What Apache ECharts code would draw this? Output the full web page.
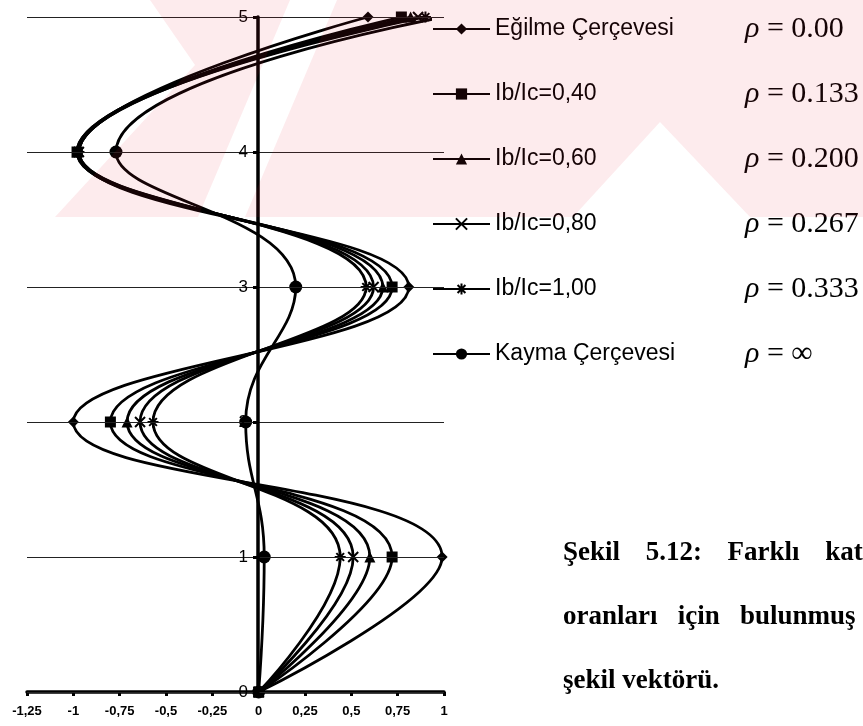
<!DOCTYPE html>
<html>
<head>
<meta charset="utf-8">
<script src="https://cdn.jsdelivr.net/npm/echarts@6/dist/echarts.min.js"></script>
<style>
	html, body { margin: 0; padding: 0; background: #fff; }
	#chart { width: 863px; height: 726px; }
</style>
</head>
<body>
<div id="chart"></div>
<script>
// kat seviyeleri ve mod şekli değerleri
var storeys = [0, 1, 2, 3, 4, 5];
var egilme = [0, 0.99, -1.0, 0.81, -0.97, 0.59];
var ib040 = [0, 0.72, -0.80, 0.72, -0.98, 0.77];
var ib060 = [0, 0.60, -0.71, 0.67, -0.98, 0.82];
var ib080 = [0, 0.51, -0.64, 0.62, -0.97, 0.86];
var ib100 = [0, 0.44, -0.57, 0.58, -0.97, 0.90];
var kayma = [0, 0.03, -0.07, 0.20, -0.77, 1.00];

var seriesNames = ['Eğilme Çerçevesi', 'Ib/Ic=0,40', 'Ib/Ic=0,60', 'Ib/Ic=0,80', 'Ib/Ic=1,00', 'Kayma Çerçevesi'];
var rhoValues = ['0.00', '0.133', '0.200', '0.267', '0.333', '∞'];
var xTickLabels = ['-1,25', '-1', '-0,75', '-0,5', '-0,25', '0', '0,25', '0,5', '0,75', '1'];
var yTickLabels = ['0', '1', '2', '3', '4', '5'];
var captionLines = ['Şekil   \u20095.12:   \u2009Farklı   \u2009kat', 'oranları   için   bulunmuş', 'şekil vektörü.'];

var chartDom = document.getElementById('chart');
var myChart = echarts.init(chartDom);

function pairs(vals) {
	return vals.map(function (v, i) { return [v, storeys[i]]; });
}

var xMark = 'path://M0,0L10,10M10,0L0,10';
var starMark = 'path://M5,0L5,10M0,5L10,5M1.5,1.5L8.5,8.5M8.5,1.5L1.5,8.5';
var markers = [
	{ symbol: 'diamond', size: 11 },
	{ symbol: 'rect', size: 11 },
	{ symbol: 'triangle', size: 11 },
	{ symbol: xMark, size: 10, stroke: true },
	{ symbol: starMark, size: 11, stroke: true },
	{ symbol: 'circle', size: 13 }
];
var allData = [egilme, ib040, ib060, ib080, ib100, kayma];

var series = allData.map(function (vals, i) {
	var m = markers[i];
	return {
		name: seriesNames[i],
		type: 'line',
		smooth: 0.45,
		data: pairs(vals),
		symbol: m.symbol,
		symbolSize: m.size,
		showAllSymbol: true,
		lineStyle: { color: '#000', width: 2.8 },
		itemStyle: m.stroke
			? { color: 'rgba(0,0,0,0)', borderColor: '#000', borderWidth: 2 }
			: { color: '#000', borderColor: '#000', borderWidth: 0 },
		emphasis: { disabled: true },
		z: 3
	};
});

// tez filigranı (soluk pembe bantlar)
var wmFill = 'rgba(230,30,60,0.09)';
var watermark = [
	[[150, 0], [290, 0], [198, 217], [55, 217], [195, 65]],
	[[337, 0], [863, 0], [863, 217], [750, 217], [660, 122], [573, 217], [245, 217]]
].map(function (pts) {
	return { type: 'polygon', shape: { points: pts }, style: { fill: wmFill }, silent: true, z: 100 };
});

var caption = captionLines.map(function (t, i) {
	return {
		type: 'text',
		left: 563,
		top: 540 + i * 64,
		style: { text: t, font: 'bold 27px "Liberation Serif", serif', fill: '#000' },
		z: 10
	};
});

var option = {
	animation: false,
	backgroundColor: '#fff',
	grid: { left: 27, right: 419, top: 17, bottom: 34 },
	xAxis: {
		type: 'value',
		min: -1.25,
		max: 1,
		interval: 0.25,
		axisLine: { onZero: false, lineStyle: { color: '#000', width: 3.5 } },
		axisTick: { show: true, length: 4, lineStyle: { color: '#000', width: 3 } },
		axisLabel: {
			color: '#000',
			fontFamily: 'Liberation Sans, Arial',
			fontWeight: 'bold',
			fontSize: 13,
			margin: 13,
			formatter: function (v, i) { return xTickLabels[i]; }
		},
		splitLine: { show: false }
	},
	yAxis: {
		type: 'value',
		min: 0,
		max: 5,
		interval: 1,
		offset: -231,
		z: 5,
		axisLine: { show: true, onZero: false, lineStyle: { color: '#000', width: 3.5 } },
		axisTick: { show: true, length: 5, lineStyle: { color: '#000', width: 3 } },
		axisLabel: {
			color: '#000',
			fontFamily: 'Liberation Sans, Arial',
			fontSize: 17,
			margin: 10,
			formatter: function (v, i) { return yTickLabels[i]; }
		},
		splitLine: { show: true, lineStyle: { color: '#222', width: 1 } }
	},
	legend: {
		orient: 'vertical',
		left: 432,
		top: 6,
		padding: [8, 0, 0, 0],
		itemGap: 35,
		itemWidth: 57,
		itemHeight: 14,
		selectedMode: false,
		backgroundColor: '#fff',
		data: seriesNames,
		formatter: function (name) {
			var i = seriesNames.indexOf(name);
			return '{n|' + name + '}{r|ρ}{e| = ' + rhoValues[i] + '}';
		},
		textStyle: {
			color: '#000',
			rich: {
				n: { width: 250, fontSize: 23, lineHeight: 30, fontFamily: 'Liberation Sans, Arial', color: '#000' },
				r: { fontSize: 30, lineHeight: 30, fontStyle: 'italic', fontFamily: 'Liberation Serif, serif', color: '#000' },
				e: { fontSize: 30, lineHeight: 30, fontFamily: 'Liberation Serif, serif', color: '#000' }
			}
		}
	},
	graphic: watermark.concat(caption),
	series: series
};

myChart.setOption(option);
</script>
</body>
</html>
